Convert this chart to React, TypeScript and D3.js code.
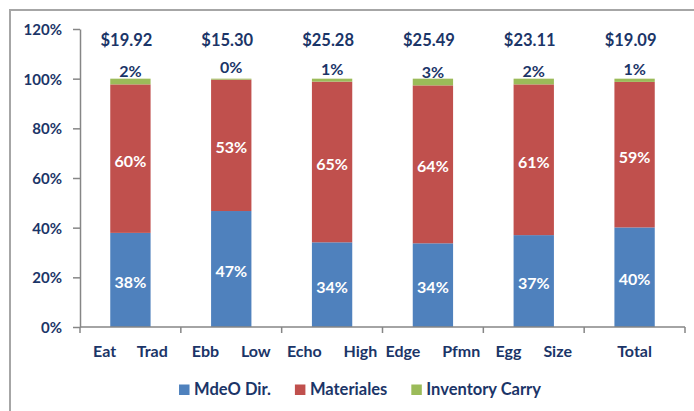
import React, { useEffect, useRef } from "react";
import * as d3 from "d3";

const categories = ["Eat Trad", "Ebb Low", "Echo High", "Edge Pfmn", "Egg Size", "Total"];
const mdeoDir = [0.379, 0.467, 0.341, 0.337, 0.37, 0.401];
const materiales = [0.598, 0.529, 0.647, 0.636, 0.607, 0.586];
const inventoryCarry = [0.023, 0.004, 0.012, 0.027, 0.023, 0.013];
const unitCosts = [19.92, 15.3, 25.28, 25.49, 23.11, 19.09];
const yTicks = [0, 0.2, 0.4, 0.6, 0.8, 1.0, 1.2];
const seriesNames = ["MdeO Dir.", "Materiales", "Inventory Carry"];
const seriesColors = ["#4F81BD", "#C0504D", "#9BBB59"];

const W = 694;
const H = 411;
const FONT = "Lato, 'Open Sans', sans-serif";
const TEXT = "#1B3568";

export default function App() {
  const ref = useRef<SVGSVGElement | null>(null);

  useEffect(() => {
    const svg = d3.select(ref.current);
    svg.selectAll("*").remove();

    // frame
    svg.append("rect").attr("x", 10).attr("y", 10).attr("width", 720).attr("height", 430)
      .attr("fill", "white").attr("stroke", "#A6A6A6").attr("stroke-width", 2);

    const x = d3.scaleBand<string>().domain(categories).range([80, 685]).paddingInner(0.6).paddingOuter(0.3);
    const y = d3.scaleLinear().domain([0, 1.2]).range([327, 29]);

    const rows = categories.map((c, i) => ({
      cat: c, mdeo: mdeoDir[i], mat: materiales[i], inv: inventoryCarry[i], cost: unitCosts[i],
    }));
    const stack = d3.stack<any>().keys(["mdeo", "mat", "inv"])(rows);

    // bars
    stack.forEach((layer, li) => {
      svg.append("g").selectAll("rect").data(layer).join("rect")
        .attr("x", (d: any) => x(d.data.cat)!)
        .attr("width", x.bandwidth())
        .attr("y", (d: any) => y(d[1]))
        .attr("height", (d: any) => y(d[0]) - y(d[1]))
        .attr("fill", seriesColors[li]);
    });

    const pct = d3.format(".0%");

    // inside labels (blue, red)
    stack.slice(0, 2).forEach((layer) => {
      svg.append("g").selectAll("text").data(layer).join("text")
        .attr("x", (d: any) => x(d.data.cat)! + x.bandwidth() / 2)
        .attr("y", (d: any) => (y(d[0]) + y(d[1])) / 2 + 8)
        .attr("text-anchor", "middle")
        .attr("font-family", FONT).attr("font-weight", 700).attr("font-size", 16)
        .attr("fill", "white")
        .text((d: any) => pct(d[1] - d[0]));
    });

    // green labels above
    svg.append("g").selectAll("text").data(stack[2]).join("text")
      .attr("x", (d: any) => x(d.data.cat)! + x.bandwidth() / 2)
      .attr("y", (d: any) => y(d[0]) - 7)
      .attr("text-anchor", "middle")
      .attr("font-family", FONT).attr("font-weight", 700).attr("font-size", 16)
      .attr("fill", TEXT)
      .text((d: any) => pct(d[1] - d[0]));

    // cost labels
    const money = d3.format("$.2f");
    svg.append("g").selectAll("text").data(rows).join("text")
      .attr("x", (d) => x(d.cat)! + x.bandwidth() / 2 - 4)
      .attr("y", 46)
      .attr("text-anchor", "middle")
      .attr("font-family", FONT).attr("font-weight", 700).attr("font-size", 16.5)
      .attr("fill", TEXT)
      .text((d) => money(d.cost));

    // y axis
    const axisColor = "#868686";
    const yAxis = svg.append("g").attr("transform", "translate(80,0)")
      .call(d3.axisLeft(y).tickValues(yTicks).tickFormat(d3.format(".0%") as any).tickSize(7).tickSizeOuter(0));
    yAxis.select(".domain").attr("stroke", axisColor).attr("stroke-width", 1.5);
    yAxis.selectAll(".tick line").attr("stroke", axisColor).attr("stroke-width", 1.5);
    yAxis.selectAll(".tick text")
      .attr("x", -18).attr("dy", "0.36em")
      .attr("font-family", FONT).attr("font-weight", 700).attr("font-size", 15)
      .attr("fill", TEXT);

    // x axis
    const xAxis = svg.append("g").attr("transform", "translate(0,327)");
    xAxis.append("line").attr("x1", 80).attr("x2", 685).attr("stroke", axisColor).attr("stroke-width", 1.5);
    const step = x.step();
    const boundaries = d3.range(categories.length + 1).map((i) => 80 + i * step);
    xAxis.selectAll("line.tk").data(boundaries).join("line").attr("class", "tk")
      .attr("x1", (d) => d).attr("x2", (d) => d).attr("y1", 0).attr("y2", 6)
      .attr("stroke", axisColor).attr("stroke-width", 1.5);

    const catLabels = svg.append("g").selectAll("text").data(categories).join("text")
      .attr("x", (d) => x(d)! + x.bandwidth() / 2)
      .attr("y", 357)
      .attr("text-anchor", "middle")
      .attr("font-family", FONT).attr("font-weight", 700).attr("font-size", 16)
      .attr("fill", TEXT);
    catLabels.each(function (d) {
      const words = d.split(" ");
      const t = d3.select(this);
      words.forEach((w, i) => {
        t.append("tspan").attr("dx", i === 0 ? 0 : 22).text(w);
      });
    });

    // legend
    const lg = svg.append("g");
    let cx = 0;
    seriesNames.forEach((n, i) => {
      const g = lg.append("g").attr("transform", `translate(${cx},0)`);
      g.append("rect").attr("x", 0).attr("y", -10.5).attr("width", 10.5).attr("height", 10.5).attr("fill", seriesColors[i]);
      const t = g.append("text").attr("x", 15).attr("y", 0)
        .attr("font-family", FONT).attr("font-weight", 700).attr("font-size", 16.5)
        .attr("fill", TEXT).text(n);
      const w = (t.node() as SVGTextElement).getComputedTextLength();
      cx += 15 + w + 24;
    });
    const total = cx - 24;
    lg.attr("transform", `translate(${360 - total / 2},395)`);
  }, []);

  return (
    <svg
      ref={ref}
      width={W}
      height={H}
      style={{ position: "absolute", left: 0, top: 0, background: "white" }}
    />
  );
}
